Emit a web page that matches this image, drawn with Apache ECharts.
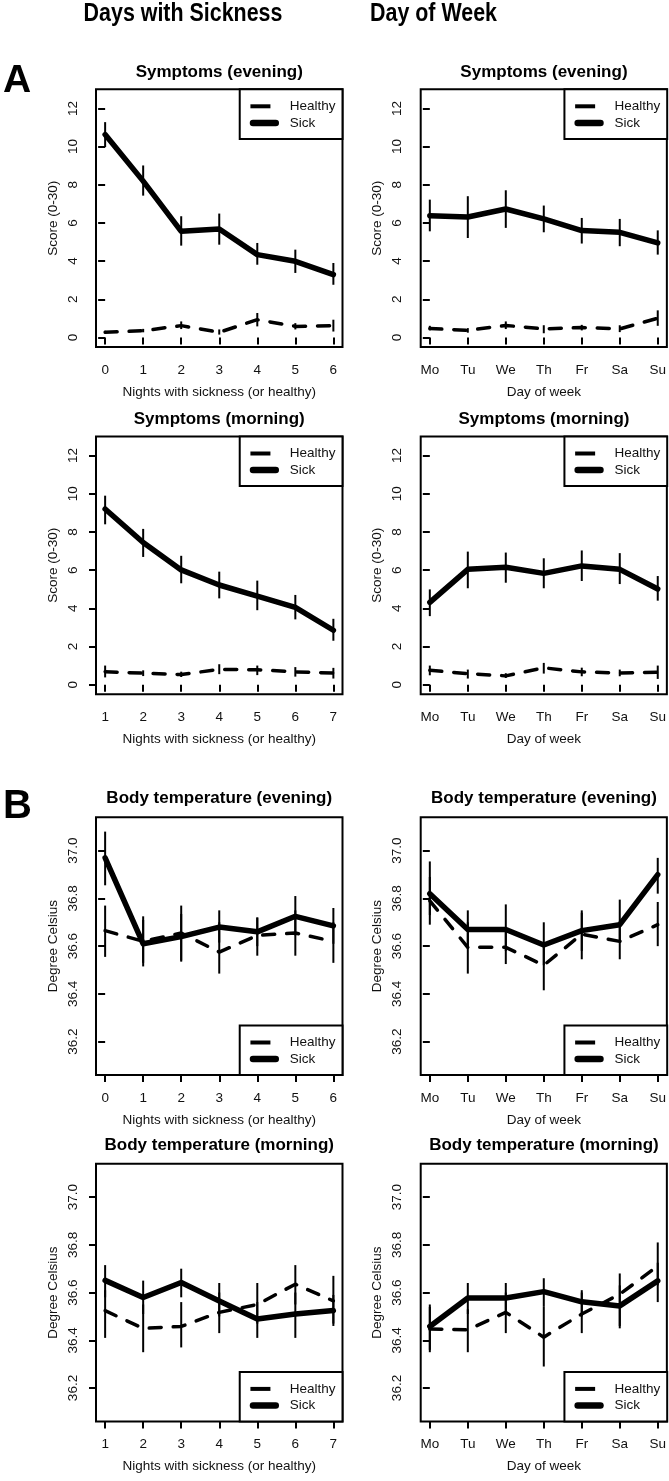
<!DOCTYPE html>
<html><head><meta charset="utf-8">
<script src="https://cdn.jsdelivr.net/npm/echarts@6/dist/echarts.min.js"></script>
<style>html,body{margin:0;padding:0;background:#fff}#c{width:669px;height:1481px}</style>
</head><body><div id="c"></div>
<script>
// ---------- categories / ticks ----------
const nightsEvening = [0, 1, 2, 3, 4, 5, 6];
const nightsMorning = [1, 2, 3, 4, 5, 6, 7];
const dayIndex = [0, 1, 2, 3, 4, 5, 6];
const dayLabels = ['Mo', 'Tu', 'We', 'Th', 'Fr', 'Sa', 'Su'];
const scoreTicks = [0, 2, 4, 6, 8, 10, 12];
const tempTicks = [36.2, 36.4, 36.6, 36.8, 37.0];

// ---------- A: Symptoms (evening) by nights ----------
const symEveNightHealthy   = [0.27, 0.35, 0.62, 0.27, 0.93, 0.58, 0.61];
const symEveNightHealthyLo = [0.20, 0.27, 0.44, 0.15, 0.58, 0.42, 0.31];
const symEveNightHealthyHi = [0.35, 0.45, 0.84, 0.42, 1.28, 0.75, 0.93];
const symEveNightSick      = [10.63, 8.19, 5.56, 5.68, 4.34, 3.99, 3.29];
const symEveNightSickLo    = [9.97, 7.43, 4.81, 4.86, 3.81, 3.38, 2.76];
const symEveNightSickHi    = [11.28, 9.01, 6.35, 6.49, 4.95, 4.60, 3.90];

// ---------- A: Symptoms (evening) by day of week ----------
const symEveDayHealthy   = [0.47, 0.37, 0.63, 0.45, 0.52, 0.45, 1.01];
const symEveDayHealthyLo = [0.37, 0.25, 0.44, 0.22, 0.37, 0.28, 0.61];
const symEveDayHealthyHi = [0.61, 0.49, 0.84, 0.64, 0.66, 0.64, 1.42];
const symEveDaySick      = [6.38, 6.31, 6.73, 6.21, 5.60, 5.51, 4.95];
const symEveDaySickLo    = [5.56, 5.21, 5.74, 5.51, 4.92, 4.78, 4.34];
const symEveDaySickHi    = [7.22, 7.40, 7.71, 6.91, 6.26, 6.21, 5.61];

// ---------- A: Symptoms (morning) by nights ----------
const symMorNightHealthy   = [0.68, 0.60, 0.53, 0.80, 0.78, 0.67, 0.61];
const symMorNightHealthyLo = [0.38, 0.45, 0.40, 0.55, 0.50, 0.42, 0.32];
const symMorNightHealthyHi = [1.00, 0.75, 0.68, 1.07, 1.00, 0.92, 0.88];
const symMorNightSick      = [9.20, 7.45, 6.01, 5.22, 4.64, 4.05, 2.85];
const symMorNightSickLo    = [8.40, 6.69, 5.31, 4.52, 3.90, 3.42, 2.30];
const symMorNightSickHi    = [9.90, 8.16, 6.75, 5.92, 5.45, 4.70, 3.45];

// ---------- A: Symptoms (morning) by day of week ----------
const symMorDayHealthy   = [0.75, 0.58, 0.46, 0.88, 0.67, 0.61, 0.65];
const symMorDayHealthyLo = [0.49, 0.32, 0.35, 0.58, 0.44, 0.44, 0.30];
const symMorDayHealthyHi = [1.00, 0.79, 0.60, 1.14, 0.89, 0.79, 1.00];
const symMorDaySick      = [4.31, 6.04, 6.15, 5.83, 6.22, 6.04, 5.01];
const symMorDaySickLo    = [3.59, 5.05, 5.34, 5.05, 5.43, 5.27, 4.40];
const symMorDaySickHi    = [4.99, 6.97, 6.92, 6.62, 7.03, 6.89, 5.69];

// ---------- B: Body temperature (evening) by nights ----------
const tmpEveNightHealthy   = [36.665, 36.620, 36.655, 36.575, 36.645, 36.655, 36.620];
const tmpEveNightHealthyLo = [36.555, 36.530, 36.540, 36.485, 36.560, 36.560, 36.530];
const tmpEveNightHealthyHi = [36.770, 36.710, 36.770, 36.700, 36.720, 36.750, 36.700];
const tmpEveNightSick      = [36.970, 36.610, 36.640, 36.680, 36.660, 36.725, 36.685];
const tmpEveNightSickLo    = [36.855, 36.515, 36.535, 36.615, 36.600, 36.645, 36.610];
const tmpEveNightSickHi    = [37.080, 36.725, 36.735, 36.750, 36.720, 36.810, 36.760];

// ---------- B: Body temperature (evening) by day of week ----------
const tmpEveDayHealthy   = [36.790, 36.595, 36.595, 36.520, 36.650, 36.620, 36.690];
const tmpEveDayHealthyLo = [36.690, 36.485, 36.525, 36.415, 36.545, 36.545, 36.600];
const tmpEveDayHealthyHi = [36.955, 36.700, 36.680, 36.610, 36.750, 36.700, 36.785];
const tmpEveDaySick      = [36.820, 36.670, 36.670, 36.605, 36.665, 36.690, 36.900];
const tmpEveDaySickLo    = [36.730, 36.600, 36.580, 36.520, 36.580, 36.620, 36.820];
const tmpEveDaySickHi    = [36.890, 36.750, 36.775, 36.700, 36.740, 36.795, 36.970];

// ---------- B: Body temperature (morning) by nights ----------
const tmpMorNightHealthy   = [36.524, 36.450, 36.458, 36.517, 36.550, 36.635, 36.565];
const tmpMorNightHealthyLo = [36.410, 36.350, 36.370, 36.430, 36.470, 36.550, 36.470];
const tmpMorNightHealthyHi = [36.610, 36.550, 36.560, 36.600, 36.640, 36.715, 36.670];
const tmpMorNightSick      = [36.651, 36.579, 36.642, 36.565, 36.489, 36.510, 36.525];
const tmpMorNightSickLo    = [36.580, 36.510, 36.580, 36.500, 36.410, 36.410, 36.460];
const tmpMorNightSickHi    = [36.715, 36.650, 36.700, 36.640, 36.560, 36.600, 36.590];

// ---------- B: Body temperature (morning) by day of week ----------
const tmpMorDayHealthy   = [36.447, 36.444, 36.517, 36.413, 36.510, 36.593, 36.711];
const tmpMorDayHealthyLo = [36.350, 36.350, 36.430, 36.290, 36.430, 36.450, 36.630];
const tmpMorDayHealthyHi = [36.540, 36.530, 36.600, 36.540, 36.600, 36.680, 36.810];
const tmpMorDaySick      = [36.458, 36.577, 36.577, 36.604, 36.561, 36.544, 36.649];
const tmpMorDaySickLo    = [36.360, 36.510, 36.510, 36.540, 36.500, 36.460, 36.560];
const tmpMorDaySickHi    = [36.550, 36.640, 36.640, 36.660, 36.610, 36.630, 36.725];

// ---------- panel definitions ----------
const panels = [
  {row:0, col:0, title:'Symptoms (evening)', xs:nightsEvening, kind:'night', yKind:'score',
   h:[symEveNightHealthy, symEveNightHealthyLo, symEveNightHealthyHi], s:[symEveNightSick, symEveNightSickLo, symEveNightSickHi], legendPos:'top'},
  {row:0, col:1, title:'Symptoms (evening)', xs:dayIndex, kind:'day', yKind:'score',
   h:[symEveDayHealthy, symEveDayHealthyLo, symEveDayHealthyHi], s:[symEveDaySick, symEveDaySickLo, symEveDaySickHi], legendPos:'top'},
  {row:1, col:0, title:'Symptoms (morning)', xs:nightsMorning, kind:'night', yKind:'score',
   h:[symMorNightHealthy, symMorNightHealthyLo, symMorNightHealthyHi], s:[symMorNightSick, symMorNightSickLo, symMorNightSickHi], legendPos:'top'},
  {row:1, col:1, title:'Symptoms (morning)', xs:dayIndex, kind:'day', yKind:'score',
   h:[symMorDayHealthy, symMorDayHealthyLo, symMorDayHealthyHi], s:[symMorDaySick, symMorDaySickLo, symMorDaySickHi], legendPos:'top'},
  {row:2, col:0, title:'Body temperature (evening)', xs:nightsEvening, kind:'night', yKind:'temp',
   h:[tmpEveNightHealthy, tmpEveNightHealthyLo, tmpEveNightHealthyHi], s:[tmpEveNightSick, tmpEveNightSickLo, tmpEveNightSickHi], legendPos:'bottom'},
  {row:2, col:1, title:'Body temperature (evening)', xs:dayIndex, kind:'day', yKind:'temp',
   h:[tmpEveDayHealthy, tmpEveDayHealthyLo, tmpEveDayHealthyHi], s:[tmpEveDaySick, tmpEveDaySickLo, tmpEveDaySickHi], legendPos:'bottom'},
  {row:3, col:0, title:'Body temperature (morning)', xs:nightsMorning, kind:'night', yKind:'temp',
   h:[tmpMorNightHealthy, tmpMorNightHealthyLo, tmpMorNightHealthyHi], s:[tmpMorNightSick, tmpMorNightSickLo, tmpMorNightSickHi], legendPos:'bottom'},
  {row:3, col:1, title:'Body temperature (morning)', xs:dayIndex, kind:'day', yKind:'temp',
   h:[tmpMorDayHealthy, tmpMorDayHealthyLo, tmpMorDayHealthyHi], s:[tmpMorDaySick, tmpMorDaySickLo, tmpMorDaySickHi], legendPos:'bottom'}
];

// ---------- layout ----------
const W = 669;
const FONT = "'Liberation Sans', Arial, sans-serif";
const colLeft = [96, 420.7];
const colWidth = 246.5;
const rowTop = [89.3, 436.5, 817.3, 1163.7];
const rowHeight = 257.7;
const titleY = [72.2, 419, 798.7, 1145.6];
const legendH = 49.5;
const TXT = '#111';

const healthyIcon = 'path://M0,0M35,14M0.7,5h20v4h-20z';
const sickIcon = 'path://M0,0M35,14M3.25,3.75h22.8a3.25,3.25 0 0 1 0,6.5h-22.8a3.25,3.25 0 0 1 0,-6.5z';

const grids = [], xAxes = [], yAxes = [], series = [], titles = [], legends = [];

function errSeries(name, gi, xs, lo, hi) {
  return {
    type: 'custom', name: name, xAxisIndex: gi, yAxisIndex: gi, clip: false, z: 3, silent: true,
    data: xs.map((x, i) => [x, lo[i], hi[i]]),
    encode: {x: 0, y: [1, 2]},
    renderItem: function (params, api) {
      const x = api.value(0);
      const a = api.coord([x, api.value(1)]);
      const b = api.coord([x, api.value(2)]);
      return {type: 'line', shape: {x1: a[0], y1: a[1], x2: b[0], y2: b[1]},
              style: {stroke: '#000', lineWidth: 2}};
    }
  };
}

panels.forEach((p, gi) => {
  const left = colLeft[p.col], top = rowTop[p.row];
  grids.push({left: left, top: top, width: colWidth, height: rowHeight, show: true,
              borderColor: '#000', borderWidth: 2, backgroundColor: 'transparent', containLabel: false});
  const xmin = p.xs[0] - 0.24, xmax = p.xs[p.xs.length - 1] + 0.24;
  xAxes.push({
    type: 'value', gridIndex: gi, min: xmin, max: xmax,
    name: p.kind === 'day' ? 'Day of week' : 'Nights with sickness (or healthy)',
    nameLocation: 'middle', nameGap: 38,
    nameTextStyle: {fontSize: 13.5, color: TXT, fontFamily: FONT},
    axisLine: {show: false},
    axisTick: {show: true, length: 7, lineStyle: {color: '#000', width: 2}, customValues: p.xs},
    axisLabel: {show: true, margin: 16, fontSize: 13.5, color: TXT, fontFamily: FONT, customValues: p.xs,
                formatter: p.kind === 'day' ? (v) => dayLabels[Math.round(v)] : (v) => String(v)},
    splitLine: {show: false}
  });
  const isScore = p.yKind === 'score';
  const ticks = isScore ? scoreTicks : tempTicks;
  yAxes.push({
    type: 'value', gridIndex: gi,
    min: isScore ? -0.5 : 36.06, max: isScore ? 13.0 : 37.14,
    name: isScore ? 'Score (0-30)' : 'Degree Celsius',
    nameLocation: 'middle', nameGap: 36,
    nameTextStyle: {fontSize: 13.5, color: TXT, fontFamily: FONT},
    axisLine: {show: false},
    axisTick: {show: true, length: 7, lineStyle: {color: '#000', width: 2}, customValues: ticks},
    axisLabel: {show: true, rotate: 90, margin: 16, fontSize: 13.5, color: TXT, fontFamily: FONT, customValues: ticks,
                formatter: isScore ? (v) => String(Math.round(v)) : (v) => v.toFixed(1)},
    splitLine: {show: false}
  });
  series.push({
    type: 'line', name: 'Healthy', xAxisIndex: gi, yAxisIndex: gi, symbol: 'none', z: 2, silent: true,
    data: p.xs.map((x, i) => [x, p.h[0][i]]),
    lineStyle: {color: '#000', width: 3.5, type: [12, 12], cap: 'round'}, itemStyle: {color: '#000'}
  });
  series.push({
    type: 'line', name: 'Sick', xAxisIndex: gi, yAxisIndex: gi, symbol: 'none', z: 4, silent: true,
    data: p.xs.map((x, i) => [x, p.s[0][i]]),
    lineStyle: {color: '#000', width: 5.5, cap: 'round', join: 'round'}, itemStyle: {color: '#000'}
  });
  series.push(errSeries('errHealthy', gi, p.xs, p.h[1], p.h[2]));
  series.push(errSeries('errSick', gi, p.xs, p.s[1], p.s[2]));

  titles.push({text: p.title, left: left + colWidth / 2, top: titleY[p.row], padding: 0,
               textAlign: 'center', textVerticalAlign: 'middle',
               textStyle: {fontSize: 17, fontWeight: 'bold', color: '#000', fontFamily: FONT}});

  legends.push({
    show: true, orient: 'vertical', right: W - (left + colWidth),
    top: p.legendPos === 'top' ? top : top + rowHeight - legendH,
    padding: [10, 7, 9, 10], itemGap: 2.6, itemWidth: 35, itemHeight: 14,
    backgroundColor: '#fff', borderColor: '#000', borderWidth: 2, borderRadius: 0,
    selectedMode: false, itemStyle: {borderWidth: 0},
    textStyle: {fontSize: 13.5, color: TXT, fontFamily: FONT, lineHeight: 14},
    data: [{name: 'Healthy', icon: healthyIcon}, {name: 'Sick', icon: sickIcon}]
  });
});

titles.push({text: 'A', left: 3, top: 80.8, padding: 0, textAlign: 'left', textVerticalAlign: 'middle',
             textStyle: {fontSize: 39, fontWeight: 'bold', color: '#000', fontFamily: FONT}});
titles.push({text: 'B', left: 3, top: 807, padding: 0, textAlign: 'left', textVerticalAlign: 'middle',
             textStyle: {fontSize: 40, fontWeight: 'bold', color: '#000', fontFamily: FONT}});

// column headers: condensed bold look via horizontal scaling
function header(text, cx) {
  return {type: 'text', x: cx, y: 14.2, scaleX: 0.84, scaleY: 1, z: 100,
          style: {text: text, fill: '#000', fontSize: 25.5, fontWeight: 'bold', fontFamily: FONT,
                  align: 'center', verticalAlign: 'middle', textAlign: 'center', textVerticalAlign: 'middle'}};
}

const chart = echarts.init(document.getElementById('c'), null, {renderer: 'canvas'});
chart.setOption({
  animation: false,
  backgroundColor: '#fff',
  textStyle: {fontFamily: FONT},
  title: titles,
  legend: legends,
  grid: grids,
  xAxis: xAxes,
  yAxis: yAxes,
  series: series,
  graphic: [header('Days with Sickness', 183), header('Day of Week', 433.5)]
});
</script>
</body></html>
